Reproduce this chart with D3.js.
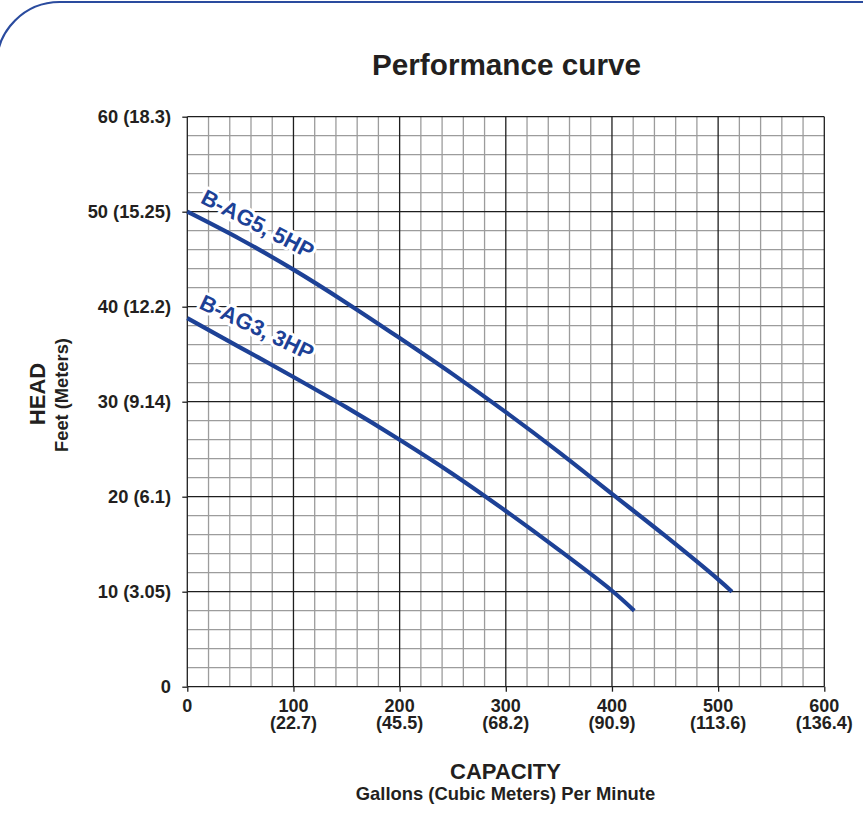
<!DOCTYPE html>
<html>
<head>
<meta charset="utf-8">
<script src="https://cdn.jsdelivr.net/npm/d3@7"></script>
<style>
  body { margin: 0; background: #fff; }
  svg { display: block; font-family: "Liberation Sans", Arial, Helvetica, sans-serif; }
</style>
</head>
<body>
<svg id="chart"></svg>
<script>
var capacityTicks = [0, 100, 200, 300, 400, 500, 600];
var capacityMeters = ["", "(22.7)", "(45.5)", "(68.2)", "(90.9)", "(113.6)", "(136.4)"];
var headTicks = [0, 10, 20, 30, 40, 50, 60];
var headLabels = ["0", "10 (3.05)", "20 (6.1)", "30 (9.14)", "40 (12.2)", "50 (15.25)", "60 (18.3)"];

// B-AG5, 5HP
var ag5Capacity = [0, 50, 100, 150, 200, 250, 300, 350, 400, 450, 500, 513];
var ag5Head = [50, 47.1, 43.9, 40.4, 36.7, 32.9, 28.9, 24.7, 20.3, 15.9, 11.3, 10];
// B-AG3, 3HP
var ag3Capacity = [0, 50, 100, 150, 200, 250, 300, 350, 400, 421];
var ag3Head = [38.8, 35.7, 32.6, 29.4, 26, 22.4, 18.5, 14.4, 10.1, 8.0];

var width = 863, height = 818;
var blue = "#1d4196";
var ink = "#231f20";

var svg = d3.select("#chart").attr("width", width).attr("height", height);

// rounded frame corner at top left
svg.append("rect")
  .attr("x", -3.4).attr("y", 2)
  .attr("width", 1000).attr("height", 1000)
  .attr("rx", 63).attr("ry", 63)
  .attr("fill", "none")
  .attr("stroke", "#2a4b9e")
  .attr("stroke-width", 2.2);

var x = d3.scaleLinear().domain([0, 600]).range([187.3, 824.3]);
var y = d3.scaleLinear().domain([0, 60]).range([686.7, 116.7]);

// minor grid
var minorX = d3.range(0, 601, 20).filter(function(d) { return d % 100 != 0; });
var minorY = d3.range(0, 61, 2).filter(function(d) { return d % 10 != 0; });

var grid = svg.append("g");
grid.selectAll(".mx").data(minorX).enter().append("line")
  .attr("x1", x).attr("x2", x).attr("y1", y(0)).attr("y2", y(60))
  .attr("stroke", "#9c9c9c").attr("stroke-width", 1.3);
grid.selectAll(".my").data(minorY).enter().append("line")
  .attr("y1", y).attr("y2", y).attr("x1", x(0)).attr("x2", x(600))
  .attr("stroke", "#9c9c9c").attr("stroke-width", 1.3);
// major grid
grid.selectAll(".Mx").data(capacityTicks).enter().append("line")
  .attr("x1", x).attr("x2", x).attr("y1", y(0)).attr("y2", y(60))
  .attr("stroke", "#1e1e1e").attr("stroke-width", 1.3);
grid.selectAll(".My").data(headTicks).enter().append("line")
  .attr("y1", y).attr("y2", y).attr("x1", x(0)).attr("x2", x(600))
  .attr("stroke", "#1e1e1e").attr("stroke-width", 1.3);

// axes
var xAxis = d3.axisBottom(x).tickValues(capacityTicks).tickSize(5).tickFormat("");
var yAxis = d3.axisLeft(y).tickValues(headTicks).tickSize(5).tickFormat("");
var gx = svg.append("g").attr("transform", "translate(0," + y(0) + ")").call(xAxis);
var gy = svg.append("g").attr("transform", "translate(" + x(0) + ",0)").call(yAxis);
[gx, gy].forEach(function(g) {
  g.select(".domain").remove();
  g.selectAll("line").attr("stroke", "#1e1e1e").attr("stroke-width", 1.3);
});

// two-line capacity labels (gpm over m3)
var xl = svg.append("g").attr("font-weight", "bold").attr("font-size", 18).attr("fill", ink)
  .attr("text-anchor", "middle");
xl.selectAll("text").data(capacityTicks).enter().append("text")
  .attr("x", x).attr("y", 712)
  .each(function(d, i) {
    var t = d3.select(this);
    t.append("tspan").attr("x", x(d)).text(d);
    if (capacityMeters[i]) t.append("tspan").attr("x", x(d)).attr("dy", 17).text(capacityMeters[i]);
  });

svg.append("g").attr("font-weight", "bold").attr("font-size", 18.3).attr("fill", ink)
  .attr("text-anchor", "end")
  .selectAll("text").data(headTicks).enter().append("text")
  .attr("x", 171).attr("y", function(d) { return y(d) + 6.6; })
  .text(function(d, i) { return headLabels[i]; });

// curves
var line = d3.line().curve(d3.curveCatmullRom)
  .x(function(d) { return x(d[0]); })
  .y(function(d) { return y(d[1]); });

var series = [
  { cap: ag5Capacity, head: ag5Head, label: "B-AG5, 5HP", lx: 11.5, ly: 51.0, rot: 27.5 },
  { cap: ag3Capacity, head: ag3Head, label: "B-AG3, 3HP", lx: 10, ly: 39.9, rot: 25.5 }
];

series.forEach(function(s) {
  var pts = s.cap.map(function(c, i) { return [c, s.head[i]]; });
  svg.append("path").datum(pts)
    .attr("d", line)
    .attr("fill", "none")
    .attr("stroke", blue)
    .attr("stroke-width", 4.2);
});

series.forEach(function(s) {
  svg.append("text")
    .attr("transform", "translate(" + x(s.lx) + "," + y(s.ly) + ") rotate(" + s.rot + ")")
    .attr("font-size", 22).attr("font-weight", "bold")
    .attr("fill", blue)
    .attr("stroke", "#fff").attr("stroke-width", 6).attr("stroke-linejoin", "round")
    .attr("paint-order", "stroke")
    .text(s.label);
});

// titles
svg.append("text").attr("x", 506.5).attr("y", 75).attr("text-anchor", "middle")
  .attr("font-size", 29.7).attr("font-weight", "bold").attr("fill", ink)
  .text("Performance curve");

svg.append("text").attr("x", 505.5).attr("y", 779).attr("text-anchor", "middle")
  .attr("font-size", 22).attr("font-weight", "bold").attr("fill", ink)
  .text("CAPACITY");
svg.append("text").attr("x", 505.5).attr("y", 800).attr("text-anchor", "middle")
  .attr("font-size", 18.4).attr("font-weight", "bold").attr("fill", ink)
  .text("Gallons (Cubic Meters) Per Minute");

svg.append("text").attr("transform", "translate(45,394) rotate(-90)").attr("text-anchor", "middle")
  .attr("font-size", 22).attr("font-weight", "bold").attr("fill", ink)
  .text("HEAD");
svg.append("text").attr("transform", "translate(68,395) rotate(-90)").attr("text-anchor", "middle")
  .attr("font-size", 18.3).attr("font-weight", "bold").attr("fill", ink)
  .text("Feet (Meters)");
</script>
</body>
</html>
